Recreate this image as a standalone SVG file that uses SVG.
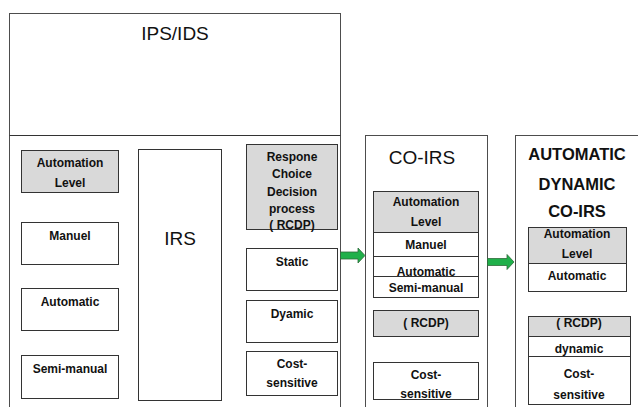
<svg xmlns="http://www.w3.org/2000/svg" width="638" height="407" viewBox="0 0 638 407">
  <defs>
    <style>
      .frame { fill: #ffffff; stroke: #4d4d4d; stroke-width: 1; }
      .box { fill: #ffffff; stroke: #333333; stroke-width: 1; }
      .head { fill: #d9d9d9; stroke: #333333; stroke-width: 1; }
      .rule { stroke: #333333; stroke-width: 1; fill: none; }
      .lbl { font-family: "Liberation Sans", Arial, sans-serif; font-weight: bold; font-size: 12px; fill: #111111; text-anchor: middle; }
      .title { font-family: "Liberation Sans", Arial, sans-serif; font-size: 19px; fill: #111111; text-anchor: middle; }
      .btitle { font-family: "Liberation Sans", Arial, sans-serif; font-weight: bold; font-size: 16.5px; fill: #111111; text-anchor: middle; }
      .arrow { fill: #1fb04a; stroke: #2e6b3a; stroke-width: 0.8; }
    </style>
  </defs>

  <rect width="638" height="407" fill="#ffffff"/>

  <!-- IPS/IDS container -->
  <g id="ips-ids">
    <rect class="frame" x="9.5" y="13.5" width="331" height="400"/>
    <line class="rule" x1="9.5" y1="135.5" x2="340.5" y2="135.5" stroke="#4d4d4d"/>
    <text class="title" x="175" y="40">IPS/IDS</text>
  </g>

  <!-- Automation level column -->
  <g id="ips-automation-level">
    <rect class="head" x="21.5" y="150.5" width="97" height="42"/>
    <text class="lbl" x="70" y="167">Automation</text>
    <text class="lbl" x="70" y="187">Level</text>
  </g>
  <g id="ips-manuel">
    <rect class="box" x="21.5" y="222.5" width="97" height="42"/>
    <text class="lbl" x="70" y="240">Manuel</text>
  </g>
  <g id="ips-automatic">
    <rect class="box" x="21.5" y="288.5" width="97" height="42"/>
    <text class="lbl" x="70" y="306">Automatic</text>
  </g>
  <g id="ips-semi-manual">
    <rect class="box" x="21.5" y="355.5" width="97" height="43"/>
    <text class="lbl" x="70" y="373">Semi-manual</text>
  </g>

  <!-- IRS -->
  <g id="irs">
    <rect class="box" x="138.5" y="149.5" width="83" height="251"/>
    <text class="title" x="180" y="245" font-size="21">IRS</text>
  </g>

  <!-- Response choice decision process column -->
  <g id="ips-rcdp">
    <rect class="head" x="246.5" y="144.5" width="91" height="85"/>
    <text class="lbl" x="292" y="161">Respone</text>
    <text class="lbl" x="292" y="178">Choice</text>
    <text class="lbl" x="292" y="196">Decision</text>
    <text class="lbl" x="292" y="213">process</text>
    <text class="lbl" x="292" y="229">( RCDP)</text>
  </g>
  <g id="ips-static">
    <rect class="box" x="246.5" y="248.5" width="91" height="42"/>
    <text class="lbl" x="292" y="266">Static</text>
  </g>
  <g id="ips-dyamic">
    <rect class="box" x="246.5" y="300.5" width="91" height="42"/>
    <text class="lbl" x="292" y="318">Dyamic</text>
  </g>
  <g id="ips-cost-sensitive">
    <rect class="box" x="246.5" y="351.5" width="91" height="44"/>
    <text class="lbl" x="292" y="368">Cost-</text>
    <text class="lbl" x="292" y="387">sensitive</text>
  </g>

  <!-- CO-IRS container -->
  <g id="co-irs">
    <rect class="frame" x="365.5" y="135.5" width="122" height="280"/>
    <text class="title" x="422" y="164">CO-IRS</text>
  </g>
  <g id="co-irs-automation">
    <rect class="head" x="373.5" y="191.5" width="105" height="41"/>
    <rect class="box" x="373.5" y="232.5" width="105" height="65"/>
    <line class="rule" x1="373.5" y1="256.5" x2="478.5" y2="256.5"/>
    <line class="rule" x1="373.5" y1="276.5" x2="478.5" y2="276.5"/>
    <text class="lbl" x="426" y="206">Automation</text>
    <text class="lbl" x="426" y="226">Level</text>
    <text class="lbl" x="426" y="249">Manuel</text>
    <text class="lbl" x="426" y="276">Automatic</text>
    <text class="lbl" x="426" y="292">Semi-manual</text>
  </g>
  <g id="co-irs-rcdp">
    <rect class="head" x="373.5" y="310.5" width="105" height="26"/>
    <text class="lbl" x="426" y="327">( RCDP)</text>
  </g>
  <g id="co-irs-cost-sensitive">
    <rect class="box" x="373.5" y="362.5" width="105" height="37"/>
    <text class="lbl" x="426" y="379">Cost-</text>
    <text class="lbl" x="426" y="398">sensitive</text>
  </g>

  <!-- Automatic dynamic CO-IRS container -->
  <g id="auto-dynamic-co-irs">
    <rect class="frame" x="515.5" y="135.5" width="130" height="280" stroke="#333333"/>
    <text class="btitle" x="577" y="160">AUTOMATIC</text>
    <text class="btitle" x="577" y="190">DYNAMIC</text>
    <text class="btitle" x="577" y="217">CO-IRS</text>
  </g>
  <g id="adc-automation">
    <rect class="head" x="528.5" y="227.5" width="98" height="36"/>
    <rect class="box" x="528.5" y="263.5" width="98" height="28"/>
    <text class="lbl" x="577" y="238">Automation</text>
    <text class="lbl" x="577" y="258">Level</text>
    <text class="lbl" x="577" y="280">Automatic</text>
  </g>
  <g id="adc-rcdp">
    <rect class="head" x="528.5" y="316.5" width="102" height="20"/>
    <rect class="box" x="528.5" y="336.5" width="102" height="20"/>
    <rect class="box" x="528.5" y="356.5" width="102" height="48"/>
    <text class="lbl" x="579" y="327">( RCDP)</text>
    <text class="lbl" x="579" y="353">dynamic</text>
    <text class="lbl" x="579" y="378">Cost-</text>
    <text class="lbl" x="579" y="399">sensitive</text>
  </g>

  <!-- connectors: block arrows between stages -->
  <g id="connectors">
    <path class="arrow" d="M340.5,252 H358 V248 L365,255.5 L358,263 V259 H340.5 Z"/>
    <path class="arrow" d="M487.5,258.5 H507 V254.5 L514,262 L507,269.5 V265.5 H487.5 Z"/>
  </g>
</svg>
